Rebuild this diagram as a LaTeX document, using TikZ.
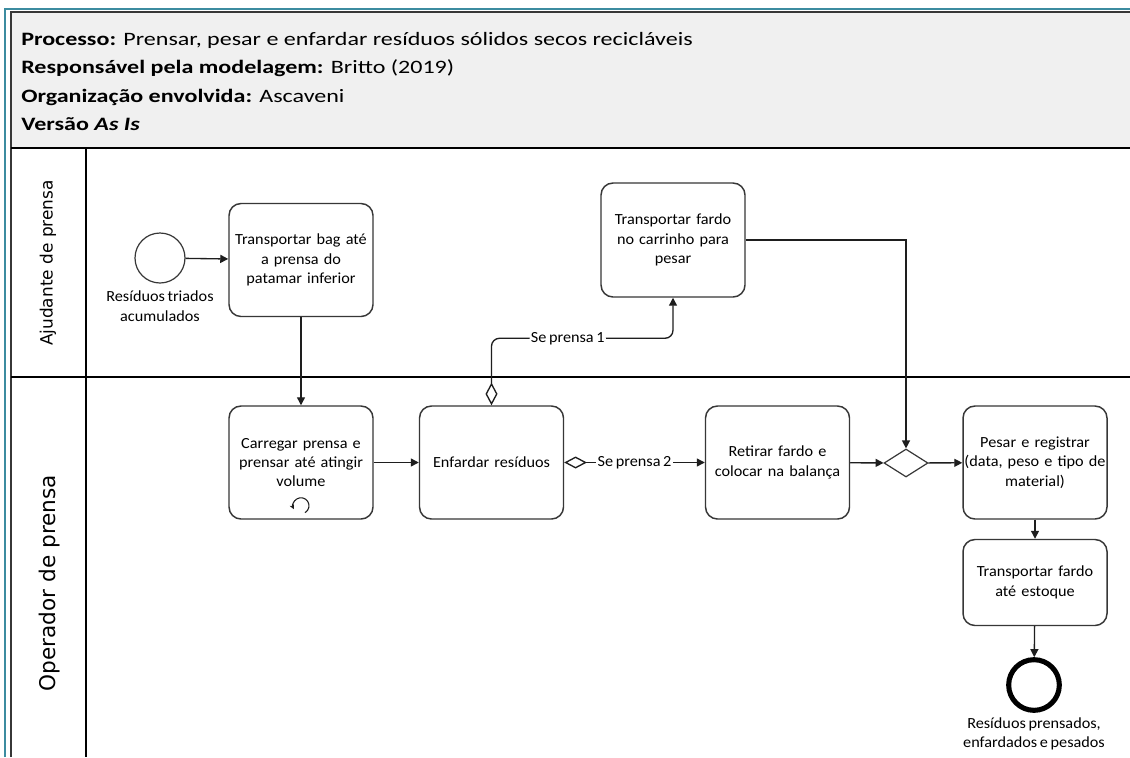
\documentclass[tikz,border=0pt]{standalone}
\usepackage{fontspec}
\setmainfont{Carlito}
\newfontfamily\headfont[FakeStretch=1.27]{Carlito}
\newfontfamily\taskfont[FakeStretch=1.05]{Carlito}
\newfontfamily\lanefont{DejaVu Sans}
\usetikzlibrary{arrows.meta,shapes.geometric,calc}
\definecolor{frameteal}{RGB}{60,140,160}
\definecolor{headgray}{RGB}{240,240,240}
\definecolor{boxline}{RGB}{55,55,55}
\definecolor{flowline}{RGB}{30,30,30}
\newcommand{\tasktext}{\taskfont\fontsize{11.6}{14.6}\selectfont\spaceskip=0.17em plus 0.05em\relax}

\begin{document}
\begin{tikzpicture}[x=0.75pt,y=-0.75pt,
  task/.style={draw=boxline, line width=1.1pt, rounded corners=9pt, fill=white,
    minimum width=108pt, minimum height=84.75pt, align=center, text width=106pt,
    inner sep=0pt, font=\tasktext},
  flow/.style={draw=flowline, line width=1pt, -{Triangle[length=6pt,width=6pt]}},
  cond/.style={draw=flowline, line width=1pt,
    {Diamond[open,length=17pt,width=9pt]}-{Triangle[length=6pt,width=6pt]}},
  lbl/.style={fill=white, inner sep=1pt, font=\tasktext},
  evlabel/.style={align=center, font=\tasktext, inner sep=0pt},
  headline/.style={anchor=base west, inner sep=0pt, font=\headfont\fontsize{14.2}{17}\selectfont},
  lanelabel/.style={rotate=90, inner sep=0pt, font=\lanefont},
]
\useasboundingbox (0,0) rectangle (1130,757);
\fill[white] (0,0) rectangle (1130,757);

% pool header and frame
\fill[headgray] (11,12) rectangle (1130,148);
\draw[frameteal, line width=1.6pt] (5,757) -- (5,9) -- (1130,9);
\draw[boxline, line width=1.2pt] (11,757) -- (11,12) -- (1130,12);
\draw[black, line width=1.6pt] (11,148) -- (1130,148);
\draw[black, line width=1pt] (86,148) -- (86,757);
\draw[black, line width=1pt] (11,377) -- (1130,377);

\node[headline] (h1) at (21,45) {\textbf{Processo:} Prensar, pesar e enfardar resíduos sólidos secos recicláveis};
\node[headline] (h2) at (21,73.5) {\textbf{Responsável pela modelagem:} Britto (2019)};
\node[headline] (h3) at (21,102) {\textbf{Organização envolvida:} Ascaveni};
\node[headline] (h4) at (21,130.5) {\textbf{Versão \textit{As Is}}};

% lane names
\node[lanelabel, font=\lanefont\fontsize{12.7}{14}\selectfont] (l1) at (48,263) {Ajudante de prensa};
\node[lanelabel, font=\lanefont\fontsize{16.2}{18}\selectfont] (l2) at (50,583) {Operador de prensa};

% events
\node[circle, draw=boxline, line width=0.9pt, minimum size=37.5pt, inner sep=0pt] (start) at (160,258) {};
\node[evlabel] (startlbl) at (160,306) {Resíduos triados\\acumulados};
\node[circle, draw=black, line width=3.8pt, minimum size=38pt, inner sep=0pt] (end) at (1034,685) {};
\node[evlabel] (endlbl) at (1034,734) {Resíduos prensados,\\enfardados e pesados};

% tasks
\node[task] (t1) at (301,260) {Transportar bag até\\a prensa do\\patamar inferior};
\node[task] (t2) at (301,462.5) {Carregar prensa e\\prensar até atingir\\volume};
\node[task] (t3) at (491.5,462.5) {Enfardar resíduos};
\node[task, minimum height=85.5pt] (t4) at (673,240) {Transportar fardo\\no carrinho para\\pesar};
\node[task] (t5) at (777.5,462.5) {Retirar fardo e\\colocar na balança};
\node[task] (t6) at (1035,462.5) {Pesar e registrar\\(data, peso e tipo de\\material)};
\node[task, minimum height=64.5pt] (t7) at (1035,582.5) {Transportar fardo\\até estoque};

% gateway
\node[diamond, draw=boxline, line width=0.9pt, minimum width=33pt, minimum height=21pt, inner sep=0pt] (g) at (906,463) {};

% loop marker
\coordinate (loopc) at ($(t2.south)+(0,-14)$);
\draw[flowline, line width=0.8pt, -{Stealth[length=3.5pt,width=3.5pt]}]
  ($(loopc)+(60:8)$) arc[start angle=60, end angle=-205, radius=8];

% sequence flows
\draw[flow] (start) -- (t1);
\draw[flow] (t1) -- (t2);
\draw[flow] (t2) -- (t3);
\draw[cond, rounded corners=6pt] (t3.north) -- ++(0,-67) coordinate (c1)
  -- node[lbl, pos=0.42] {Se prensa 1} (c1 -| t4.south) -- (t4.south);
\draw[cond] (t3.east) -- node[lbl] {Se prensa 2} (t5.west);
\draw[flow] (t4.east) -| (g.north);
\draw[flow] (t5) -- (g);
\draw[flow] (g) -- (t6);
\draw[flow] (t6) -- (t7);
\draw[flow] (t7) -- (end);
\end{tikzpicture}
\end{document}
